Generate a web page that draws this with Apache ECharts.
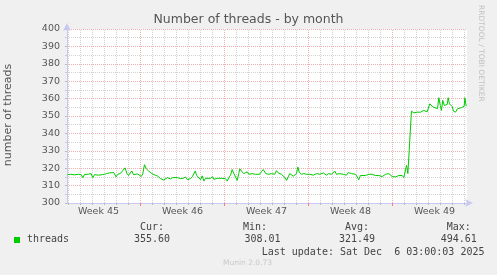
<!DOCTYPE html>
<html>
<head>
<meta charset="utf-8">
<script src="https://cdn.jsdelivr.net/npm/echarts@6/dist/echarts.min.js"></script>
<style>
html,body{margin:0;padding:0;background:#f0f0f0;}
#chart{width:497px;height:275px;}
</style>
</head>
<body>
<div id="chart"></div>
<script>
// ---- data (days relative to start of Week 46) ----
const dayOffsets = [-6.08,-5.83,-5.5,-5.17,-4.94,-4.81,-4.67,-4.33,-4.11,-3.98,-3.83,-3.5,-3.17,-3.0,-2.83,-2.58,-2.42,-2.23,-2.03,-1.89,-1.67,-1.48,-1.28,-1.14,-1.0,-0.86,-0.73,-0.58,-0.44,-0.23,-0.08,
0.06,0.19,0.33,0.48,0.67,0.83,0.94,1.08,1.23,1.42,1.67,1.92,2.08,2.25,2.5,2.67,2.83,3.08,3.33,3.58,3.75,3.92,4.04,4.17,4.33,4.56,4.67,4.78,5.0,5.14,5.28,5.42,5.58,5.83,6.0,6.11,6.25,6.42,6.58,6.73,6.83,
7.08,7.23,7.36,7.5,7.64,7.78,7.92,8.06,8.19,8.28,8.39,8.5,8.61,8.75,8.89,9.03,9.17,9.33,9.58,9.67,9.92,10.06,10.23,10.36,10.44,10.67,10.78,10.92,11.08,11.19,11.33,11.48,11.61,11.75,11.86,12.03,12.17,12.31,12.44,12.58,12.73,12.86,13.0,13.11,13.23,13.42,13.61,13.83,13.98,
14.11,14.39,14.53,14.67,14.94,15.23,15.36,15.5,15.67,15.92,16.08,16.19,16.33,16.61,16.89,17.03,17.17,17.31,17.44,17.58,17.73,17.92,18.06,18.19,18.33,18.48,18.75,19.03,19.31,19.44,19.58,19.73,19.86,20.0,20.14,20.28,20.42,20.56,20.69,20.83,20.98,
21.08,21.25,21.39,21.53,21.67,21.81,21.94,22.08,22.17,22.28,22.36,22.44,22.58,22.69,22.78,23.06,23.19,23.33,23.48,23.61,23.75,23.89,24.03,24.11,24.25,24.36,24.53,24.64,24.75,24.86,24.98,25.08,25.19,25.31,25.42,25.56,25.64,25.75,25.86,25.98,26.08,26.25,26.42,26.58,26.75,26.86,26.97,27.03,27.14,27.19];
const threads = [316.3,316.5,316.2,316.5,316.3,314.6,316.3,316.6,316.9,314.6,316.3,316.0,316.3,316.5,316.9,317.3,316.5,317.5,315.0,316.5,317.0,318.6,320.2,317.1,315.8,316.3,318.4,316.3,317.3,316.7,315.8,
315.2,316.7,322.0,319.7,318.4,317.3,316.9,317.9,316.0,315.5,314.0,313.2,314.0,314.6,313.8,314.6,314.2,314.6,314.0,314.2,315.0,313.4,312.6,314.0,315.2,318.4,316.0,315.2,313.4,315.6,312.6,314.2,314.6,314.2,315.2,313.6,314.6,314.2,314.6,314.2,313.4,
314.0,312.6,314.6,316.0,319.2,316.9,317.3,313.0,316.9,319.7,318.4,319.0,316.9,316.5,317.9,316.5,316.0,316.9,316.5,316.9,316.5,317.9,319.2,319.5,316.9,316.5,317.3,316.9,317.9,316.5,318.6,317.3,316.9,316.5,316.0,314.6,313.0,315.0,316.9,316.5,315.4,316.5,316.9,320.7,317.7,316.5,316.9,316.5,316.0,
316.5,316.0,316.5,316.9,316.5,317.3,316.5,316.0,316.9,316.5,316.0,318.4,316.5,316.9,316.5,316.9,316.0,317.5,317.1,316.9,317.8,316.5,315.0,313.4,315.8,316.5,315.8,316.5,316.5,316.9,315.8,316.5,315.8,316.5,315.2,315.8,316.5,315.8,316.9,315.8,315.2,
314.6,315.0,314.6,315.8,315.0,315.8,314.6,314.0,321.6,316.9,317.8,316.3,352.8,353.4,351.8,352.2,352.6,352.2,352.8,353.2,352.8,352.4,351.3,357.0,356.1,355.2,354.8,355.6,354.2,360.5,356.1,353.2,359.0,356.1,357.0,356.6,360.5,357.0,357.9,355.4,352.8,352.2,354.2,353.6,354.8,354.2,355.6,360.5,355.6,355.6];
const seriesName = 'threads';
const weekLabelPositions = [-3.5, 3.5, 10.5, 17.5, 24.5];
const weekLabels = ['Week 45', 'Week 46', 'Week 47', 'Week 48', 'Week 49'];
const weekBoundaries = [0, 7, 14, 21];
const dayLines = [-6,-5,-4,-3,-2,-1,1,2,3,4,5,6,8,9,10,11,12,13,15,16,17,18,19,20,22,23,24,25,26,27];
const statHeaders = ['Cur:', 'Min:', 'Avg:', 'Max:'];
const statValues = ['355.60', '308.01', '321.49', '494.61'];
const titleText = 'Number of threads - by month';
const yAxisTitle = 'number of threads';
const lastUpdate = 'Last update: Sat Dec  6 03:00:03 2025';
const sideText = 'RRDTOOL / TOBI OETIKER';
const footerText = 'Munin 2.0.73';

const lineData = dayOffsets.map((d, i) => [d, threads[i]]);
const FONT = 'DejaVu Sans';
const TXT = '#555';
const GRID_GRAY = '#d2d2d2';
const GRID_RED = '#f2b0b0';
const AXIS_COL = '#c8c8f4';
const X_MIN = -6.125, X_MAX = 27.2083;

const headerX = [140, 243, 345, 446.7];
const valueX = [134, 244.5, 339, 440.7];

const graphics = [
  {type:'text', x: 8, y: 115, rotation: Math.PI/2,
   style:{text: yAxisTitle, font: '11px "DejaVu Sans"', fill: TXT, textAlign:'center', textVerticalAlign:'middle'}},
  {type:'rect', shape:{x:14, y:237, width:6, height:6}, style:{fill:'#00cc00'}},
  {type:'text', style:{text: seriesName, x:27, y:239.5, font:'10px "DejaVu Sans Mono"', fill:'#444', textVerticalAlign:'middle'}},
  {type:'text', style:{text: lastUpdate, x:261.7, y:252, font:'10px "DejaVu Sans Mono"', fill:'#444', textVerticalAlign:'middle'}},
  {type:'text', style:{text: footerText, x:223, y:263.5, font:'7.5px "DejaVu Sans"', fill:'#c8c8c8', textVerticalAlign:'middle'}},
  {type:'text', x: 485, y: 5, rotation: -Math.PI/2,
   style:{text: sideText, x:0, y:0, font:'7.5px "DejaVu Sans"', fill:'#c0c0c0', textVerticalAlign:'top'}}
];
statHeaders.forEach((h, i) => {
  graphics.push({type:'text', style:{text:h, x:headerX[i], y:227.5, font:'10px "DejaVu Sans Mono"', fill:'#444', textVerticalAlign:'middle'}});
  graphics.push({type:'text', style:{text:statValues[i], x:valueX[i], y:239.5, font:'10px "DejaVu Sans Mono"', fill:'#444', textVerticalAlign:'middle'}});
});

const chart = echarts.init(document.getElementById('chart'), null, {renderer:'canvas'});
chart.setOption({
  backgroundColor: '#f0f0f0',
  animation: false,
  title: {
    text: titleText, left: 'center', top: 8,
    textStyle: {fontFamily: FONT, fontSize: 12.5, fontWeight: 'normal', color: TXT}
  },
  grid: {left: 67, top: 29, width: 400, height: 174, show: true, backgroundColor: '#fff', borderWidth: 0, containLabel: false},
  xAxis: [{
    type: 'value', min: X_MIN, max: X_MAX,
    axisLine: {show: true, onZero: false, lineStyle: {color: AXIS_COL, width: 1}, symbol: ['none','arrow'], symbolSize: [6, 8], symbolOffset: [0, 6]},
    axisTick: {show: true, customValues: dayLines, length: 2, lineStyle: {color: '#bbb'}},
    axisLabel: {show: true, customValues: weekLabelPositions, margin: 4,
      formatter: v => { const i = weekLabelPositions.findIndex(p => Math.abs(p - v) < 0.01); return i >= 0 ? weekLabels[i] : ''; },
      fontFamily: FONT, fontSize: 9.5, color: TXT},
    splitLine: {show: false}
  }, {
    type: 'value', min: X_MIN, max: X_MAX, position: 'bottom',
    axisLine: {show: false, onZero: false},
    axisTick: {show: true, customValues: weekBoundaries, length: 3, lineStyle: {color: '#f08080'}},
    axisLabel: {show: false},
    splitLine: {show: false}
  }],
  yAxis: {
    type: 'value', min: 300, max: 400, interval: 10,
    axisLine: {show: true, onZero: false, lineStyle: {color: AXIS_COL, width: 1}, symbol: ['none','arrow'], symbolSize: [6, 8], symbolOffset: [0, 6]},
    axisTick: {show: true, length: 2, lineStyle: {color: '#bbb'}},
    minorTick: {show: true, splitNumber: 2, length: 2, lineStyle: {color: '#ccc'}},
    axisLabel: {margin: 7, fontFamily: FONT, fontSize: 9.5, color: TXT},
    splitLine: {show: true, lineStyle: {color: GRID_RED, type: [1, 1], width: 1}},
    minorSplitLine: {show: true, lineStyle: {color: GRID_GRAY, type: [1, 1], width: 1}}
  },
  series: [{
    type: 'line', data: [], z: 1, silent: true,
    markLine: {
      silent: true, symbol: ['none','none'], label: {show: false}, animation: false,
      data: dayLines.map(d => ({xAxis: d, lineStyle: {color: GRID_GRAY, type: [1,1], width: 1}}))
        .concat(weekBoundaries.map(d => ({xAxis: d, lineStyle: {color: GRID_RED, type: [1,1], width: 1}})))
    }
  }, {
    name: seriesName, type: 'line', data: lineData, z: 5,
    showSymbol: false, symbol: 'none',
    lineStyle: {color: '#00cc00', width: 1},
    itemStyle: {color: '#00cc00'}
  }],
  graphic: graphics
});
</script>
</body>
</html>
